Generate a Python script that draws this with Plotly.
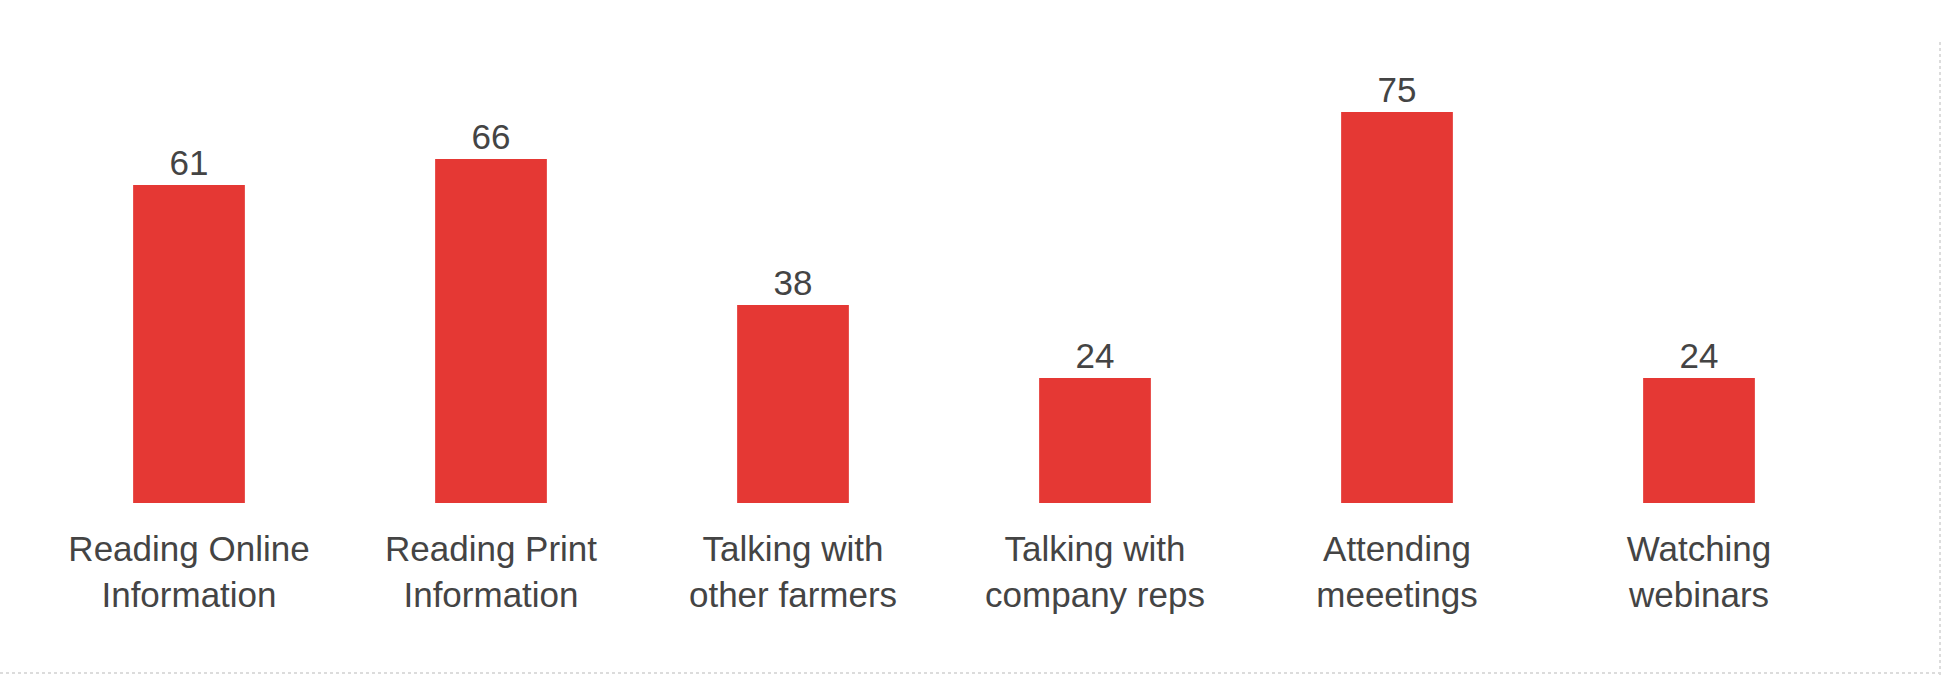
import plotly.graph_objects as go

categories = ["Reading Online<br>Information", "Reading Print<br>Information",
              "Talking with<br>other farmers", "Talking with<br>company reps",
              "Attending<br>meeetings", "Watching<br>webinars"]
values = [61, 66, 38, 24, 75, 24]

W, H = 1946, 678
L, R, T, B = 38, 96, 86, 175
pw, ph = W - L - R, H - T - B

def px_x(x):
    return (x - L) / pw

def px_y(y):
    return (H - B - y) / ph

fig = go.Figure(go.Bar(
    x=list(range(len(categories))), y=values,
    marker=dict(color="#E53834", line=dict(width=0)),
    text=[str(v) for v in values], textposition="outside",
    textfont=dict(family="Liberation Sans, Arial", size=35, color="#444444"),
    cliponaxis=False,
))

fig.update_layout(
    width=W, height=H,
    margin=dict(l=L, r=R, t=T, b=B),
    paper_bgcolor="white", plot_bgcolor="white",
    bargap=0.63,
    showlegend=False,
    xaxis=dict(
        range=[-0.5, len(categories) - 0.5],
        tickmode="array", tickvals=list(range(len(categories))), ticktext=categories,
        tickfont=dict(family="Liberation Sans, Arial", size=35, color="#444444"),
        showgrid=False, zeroline=False, showline=False, ticks="",
        ticklabelstandoff=22,
    ),
    yaxis=dict(range=[0, 80], visible=False),
    shapes=[
        dict(type="line", xref="paper", yref="paper",
             x0=px_x(0), x1=px_x(1940), y0=px_y(673), y1=px_y(673),
             line=dict(color="#dcdcdc", width=2, dash="dot")),
        dict(type="line", xref="paper", yref="paper",
             x0=px_x(1940), x1=px_x(1940), y0=px_y(42), y1=px_y(H),
             line=dict(color="#dcdcdc", width=2, dash="dot")),
    ],
)

fig.write_html("out.html")
